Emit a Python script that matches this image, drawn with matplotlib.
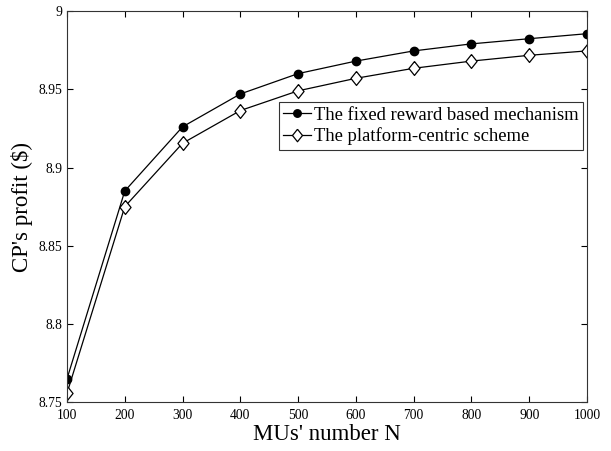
import matplotlib.pyplot as plt

plt.rcParams['font.family'] = ['Liberation Serif', 'DejaVu Serif']

n_mus = [100, 200, 300, 400, 500, 600, 700, 800, 900, 1000]
profit_fixed = [8.765, 8.885, 8.926, 8.947, 8.960, 8.968, 8.9745, 8.979, 8.9823, 8.9855]
profit_platform = [8.7558, 8.875, 8.9155, 8.9364, 8.949, 8.957, 8.9634, 8.968, 8.9717, 8.9745]

y_ticks = [8.75, 8.8, 8.85, 8.9, 8.95, 9]
y_tick_labels = ["8.75", "8.8", "8.85", "8.9", "8.95", "9"]

# matlab style diamond, a bit taller than wide
diamond = [(0, 1), (0.8, 0), (0, -1), (-0.8, 0), (0, 1)]

fig = plt.figure(figsize=(6.11, 4.51), dpi=100)
ax = fig.add_axes([67 / 611, 1 - 402.3 / 451, 520 / 611, 391.3 / 451])

ax.plot(n_mus, profit_fixed, color="black", linewidth=0.9,
        marker="o", markersize=6, markerfacecolor="black",
        label="The fixed reward based mechanism")
ax.plot(n_mus, profit_platform, color="black", linewidth=0.9,
        marker=diamond, markersize=10, markerfacecolor="white",
        markeredgewidth=0.9, label="The platform-centric scheme")

ax.set_xlim(100, 1000)
ax.set_ylim(8.75, 9)
ax.set_xticks(n_mus)
ax.set_yticks(y_ticks)
ax.set_yticklabels(y_tick_labels)
ax.tick_params(direction="in", top=True, right=True, labelsize=9.8,
               length=4, width=0.8)
ax.tick_params(axis="x", pad=5)
for s in ax.spines.values():
    s.set_linewidth(0.8)
    s.set_color("#333333")

ax.set_xlabel("MUs' number N", fontsize=16.5, labelpad=1)
ax.set_ylabel("CP's profit (\\$)", fontsize=16.5, labelpad=4)

leg = ax.legend(loc="upper right", bbox_to_anchor=(0.993, 0.767),
                fontsize=13.4, frameon=True, fancybox=False,
                edgecolor="black", handlelength=1.5, handletextpad=0.15,
                borderpad=0.25, labelspacing=0.2, borderaxespad=0,
                markerscale=0.9)
leg.get_frame().set_linewidth(0.8)

fig.savefig("out.png", dpi=100)
